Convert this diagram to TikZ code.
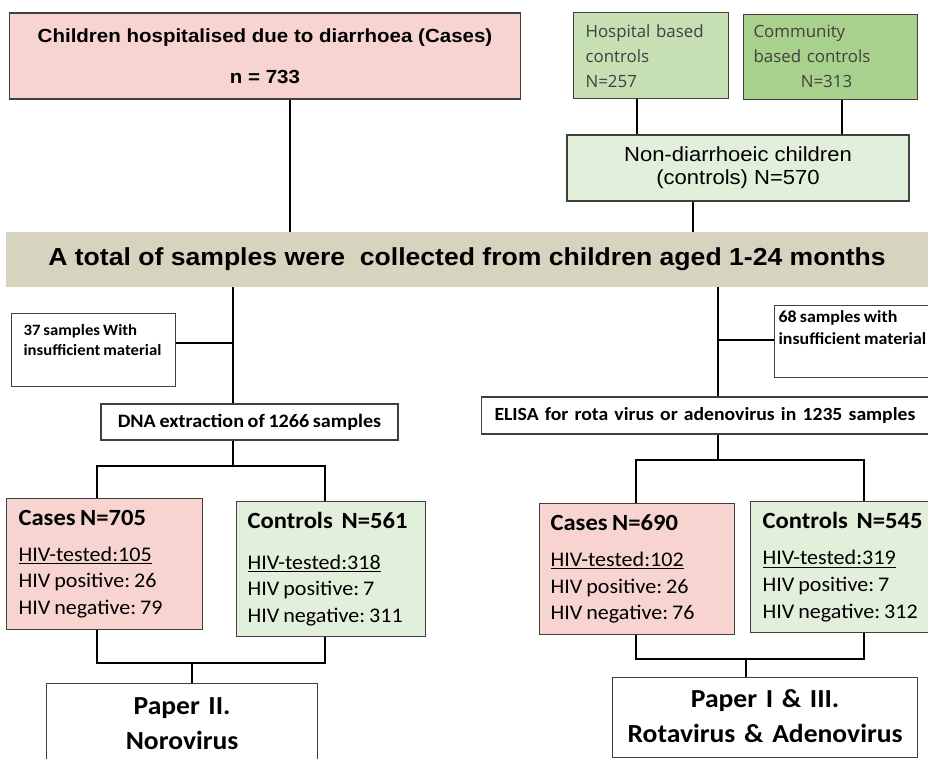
\documentclass[tikz,border=0pt]{standalone}
\usepackage{fontspec}
\setmainfont{Carlito}[FakeStretch=1.06, WordSpace=0.8]
\newfontfamily\arialfont{Liberation Sans}[FakeStretch=1.08]
\newfontfamily\plainfont{Open Sans}
\usepackage{xcolor}
\definecolor{casepink}{RGB}{247,212,208}
\definecolor{ctrlgreen}{RGB}{226,239,218}
\definecolor{hospgreen}{RGB}{198,224,180}
\definecolor{commgreen}{RGB}{169,209,142}
\definecolor{bandbeige}{RGB}{214,212,190}
\frenchspacing

\begin{document}
\begin{tikzpicture}[x=0.025cm, y=-0.025cm,
    box/.style={draw=black!75, line width=0.8pt, inner sep=0pt},
    link/.style={line width=1.4pt},
    groupbox/.style={box, anchor=north west, align=flush left, font=\fontsize{14.8}{19}\selectfont}]
    \useasboundingbox (0,0) rectangle (928,758);

    % top row
    \node[box, fill=casepink, minimum width=12.75cm, minimum height=2.15cm, align=center,
          font=\arialfont\bfseries\fontsize{13.5}{17}\selectfont] (cases) at (265,56)
          {Children hospitalised due to diarrhoea (Cases)\\[12pt] n = 733};
    \node[box, fill=hospgreen, anchor=north west, text width=3.275cm, inner xsep=0.3cm,
          text height=0.625cm, text depth=1.525cm, align=left, text=black!75,
          font=\plainfont\fontsize{12}{17.8}\selectfont] (hosp) at (573,12)
          {Hospital based\\ controls\\ N=257};
    \node[box, fill=commgreen, anchor=north west, text width=3.85cm, inner xsep=0.25cm,
          text height=0.575cm, text depth=1.55cm, align=left, text=black!75,
          font=\plainfont\fontsize{12}{17.8}\selectfont] (comm) at (743,14)
          {Community\\ based controls\\ \hspace*{2.8em}N=313};
    \node[box, fill=ctrlgreen, minimum width=8.55cm, minimum height=1.65cm, align=center,
          font=\arialfont\fontsize{14.5}{16.5}\selectfont] (nondiar) at (738,168)
          {Non-diarrhoeic children\\ (controls) N=570};

    % band
    \node[fill=bandbeige, minimum width=23.05cm, minimum height=1.375cm,
          font=\arialfont\bfseries\fontsize{17.5}{20}\selectfont] (band) at (467,259.5)
          {A total of samples were~ collected from children aged 1-24 months};

    % samples
    \node[box, anchor=north west, text width=3.5cm, inner xsep=0.3cm, text height=0.55cm,
          text depth=1.275cm, align=flush left, font=\bfseries\fontsize{11.2}{14}\selectfont] (few37) at (11,313)
          {37 samples With\\ insufficient material};
    \node[box, anchor=north west, text width=3.825cm, inner xsep=0.1cm, text height=0.42cm,
          text depth=1.38cm, align=flush left, font=\bfseries\fontsize{12}{15.5}\selectfont] (few68) at (774,305)
          {68 samples with\\ insufficient material};
    \node[box, minimum width=7.425cm, minimum height=0.9cm, align=center,
          font=\bfseries\fontsize{13.5}{16}\selectfont] (dna) at (249.5,422)
          {DNA extraction of 1266 samples};
    \node[box, anchor=west, text width=10.7cm, inner xsep=0.325cm, minimum height=0.925cm,
          align=left, font=\bfseries\fontsize{13.2}{16}\selectfont] (elisa) at (481,415.5)
          {ELISA for rota virus or adenovirus in 1235 samples};

    % groups
    \node[groupbox, fill=casepink, text width=4.3cm, inner xsep=0.3cm, minimum height=3.275cm] (casesL) at (6,498)
          {{\bfseries\fontsize{16.5}{19}\selectfont Cases N=705}\\[6.5pt]
           \underline{HIV-tested:105}\\ HIV positive: 26\\ HIV negative: 79};
    \node[groupbox, fill=ctrlgreen, text width=4.175cm, inner xsep=0.275cm, minimum height=3.375cm] (ctrlL) at (236,501)
          {{\bfseries\fontsize{16.5}{19}\selectfont Controls~ N=561}\\[10pt]
           \underline{HIV-tested:318}\\ HIV positive: 7\\ HIV negative: 311};
    \node[groupbox, fill=casepink, text width=4.325cm, inner xsep=0.275cm, minimum height=3.275cm] (casesR) at (539,503)
          {{\bfseries\fontsize{16.5}{19}\selectfont Cases N=690}\\[6.5pt]
           \underline{HIV-tested:102}\\ HIV positive: 26\\ HIV negative: 76};
    \node[groupbox, fill=ctrlgreen, text width=4.025cm, inner xsep=0.3cm, minimum height=3.275cm] (ctrlR) at (750,501)
          {{\bfseries\fontsize{16.5}{19}\selectfont Controls~ N=545}\\[6.5pt]
           \underline{HIV-tested:319}\\ HIV positive: 7\\ HIV negative: 312};

    % papers
    \node[box, anchor=north west, text width=6.775cm, text height=0.775cm, text depth=1.5cm,
          align=center, font=\bfseries\fontsize{18.5}{25}\selectfont] (paperL) at (46,683)
          {Paper II.\\ Norovirus};
    \node[box, anchor=north west, text width=7.625cm, text height=0.75cm, text depth=1.25cm,
          align=center, font=\bfseries\fontsize{18.5}{25}\selectfont] (paperR) at (612,677)
          {Paper I \& III.\\ Rotavirus \& Adenovirus};

    % columns for the connectors
    \coordinate (dropA) at (290,0);
    \coordinate (dropB) at (637,0);
    \coordinate (dropC) at (842,0);
    \coordinate (dropD) at (693,0);
    \coordinate (trunkL) at (233,0);
    \coordinate (trunkR) at (718,0);
    \coordinate (tapL) at (233,343);
    \coordinate (tapR) at (718,340);
    \coordinate (splitL) at (233,466);
    \coordinate (splitR) at (718,460);
    \coordinate (colLa) at (97,0);
    \coordinate (colLb) at (325,0);
    \coordinate (colRa) at (636,0);
    \coordinate (colRb) at (864,0);
    \coordinate (joinL) at (192,663);
    \coordinate (joinR) at (746,659);

    \draw[link] (dropA |- cases.south) -- (dropA |- band.north);
    \draw[link] (dropB |- hosp.south) -- (dropB |- nondiar.north);
    \draw[link] (dropC |- comm.south) -- (dropC |- nondiar.north);
    \draw[link] (dropD |- nondiar.south) -- (dropD |- band.north);

    \draw[link] (trunkL |- band.south) -- (trunkL |- dna.north);
    \draw[link] (tapL -| few37.east) -- (tapL);
    \draw[link] (trunkR |- band.south) -- (trunkR |- elisa.north);
    \draw[link] (tapR) -- (tapR -| few68.west);

    \draw[link] (trunkL |- dna.south) -- (splitL);
    \draw[link] (colLa |- casesL.north) |- (splitL) -| (colLb |- ctrlL.north);
    \draw[link] (trunkR |- elisa.south) -- (splitR);
    \draw[link] (colRa |- casesR.north) |- (splitR) -| (colRb |- ctrlR.north);

    \draw[link] (colLa |- casesL.south) |- (colLb |- joinL) -- (colLb |- ctrlL.south);
    \draw[link] (joinL) -- (joinL |- paperL.north);
    \draw[link] (colRa |- casesR.south) |- (colRb |- joinR) -- (colRb |- ctrlR.south);
    \draw[link] (joinR) -- (joinR |- paperR.north);
\end{tikzpicture}
\end{document}
